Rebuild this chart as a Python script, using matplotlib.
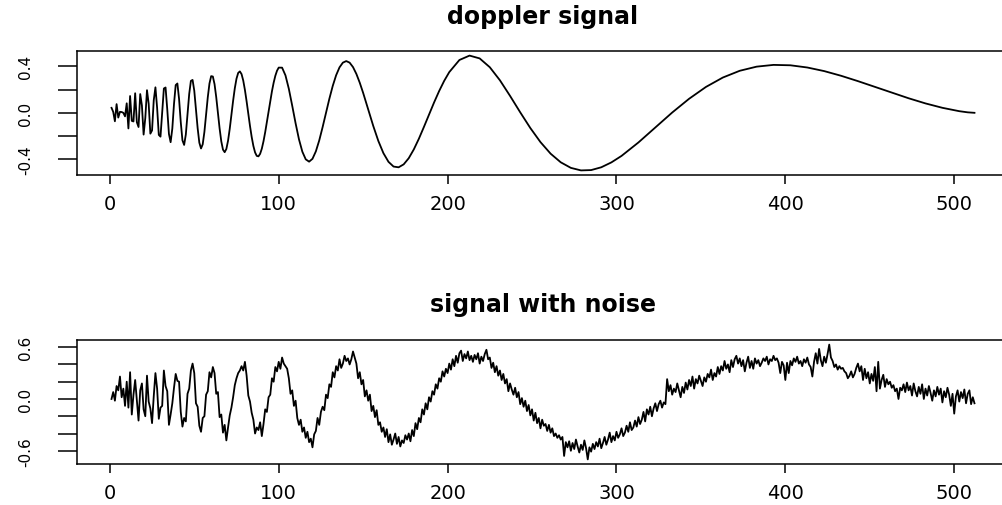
import numpy as np
import matplotlib
matplotlib.use("Agg")
import matplotlib.pyplot as plt

# ---------------- data ----------------
doppler_x = (list(range(1, 101)) + list(range(102, 151, 2)) + list(range(153, 202, 3))
             + list(range(207, 298, 6)) + [303] + list(range(313, 504, 10)) + [508, 512])
doppler_y = [
    0.0428, 0.0085, -0.0730, 0.0750, -0.0411, 0.0086, 0.0067, 0.0000, -0.0307, 0.0821,
    -0.1344, 0.1445, -0.0692, -0.0747, 0.1684, -0.0809, -0.1224, 0.1617, 0.0627, -0.1877,
    -0.0450, 0.1951, 0.0783, -0.1795, -0.1519, 0.1074, 0.2197, 0.0430, -0.1903, -0.2053,
    0.0027, 0.2097, 0.2181, 0.0314, -0.1825, -0.2531, -0.1357, 0.0765, 0.2388, 0.2526,
    0.1189, -0.0801, -0.2372, -0.2766, -0.1869, -0.0152, 0.1623, 0.2749, 0.2833, 0.1909,
    0.0344, -0.1323, -0.2574, -0.3071, -0.2712, -0.1644, -0.0170, 0.1340, 0.2525, 0.3158,
    0.3126, 0.2473, 0.1356, 0.0000, -0.1342, -0.2460, -0.3171, -0.3391, -0.3115, -0.2405,
    -0.1379, -0.0181, 0.1035, 0.2110, 0.2938, 0.3434, 0.3567, 0.3334, 0.2778, 0.1964,
    0.0979, -0.0084, -0.1135, -0.2081, -0.2854, -0.3409, -0.3710, -0.3749, -0.3531, -0.3087,
    -0.2446, -0.1666, -0.0786, 0.0120, 0.1018, 0.1857, 0.2590, 0.3190, 0.3625, 0.3893,
    # 102..150 step 2
    0.3889, 0.3226, 0.2066, 0.0612, -0.0903, -0.2282, -0.3349, -0.4006, -0.4207, -0.3961,
    -0.3319, -0.2378, -0.1232, 0.0000, 0.1214, 0.2318, 0.3235, 0.3914, 0.4322, 0.4456,
    0.4320, 0.3938, 0.3346, 0.2588, 0.1716,
    # 153..201 step 3
    0.0288, -0.1137, -0.2425, -0.3474, -0.4220, -0.4629, -0.4693, -0.4439, -0.3909, -0.3152,
    -0.2233, -0.1212, -0.0154, 0.0891, 0.1874, 0.2756, 0.3506,
    # 207..297 step 6
    0.4549, 0.4928, 0.4685, 0.3926, 0.2800, 0.1456, 0.0045, -0.1311, -0.2523, -0.3519,
    -0.4261, -0.4742, -0.4960, -0.4932, -0.4691, -0.4269,
    # 303
    -0.3711,
    # 313..503 step 10
    -0.2554, -0.1264, 0.0024, 0.1208, 0.2230, 0.3039, 0.3620, 0.3976, 0.4127, 0.4093,
    0.3903, 0.3593, 0.3190, 0.2728, 0.2235, 0.1733, 0.1253, 0.0809, 0.0431, 0.0140,
    # 508, 512
    0.0041, 0.0000,
]

noisy_y = [
    0.00, 0.08, -0.02, 0.15, 0.10, 0.26, 0.02, 0.12, -0.08, 0.20,
    -0.10, 0.31, -0.18, 0.05, 0.22, -0.02, -0.25, 0.10, 0.18, -0.12,
    -0.20, 0.27, -0.03, -0.11, -0.28, 0.03, 0.30, 0.12, -0.23, -0.10,
    -0.08, 0.33, 0.15, 0.09, -0.30, -0.18, -0.05, 0.13, 0.29, 0.21,
    0.20, -0.15, -0.32, -0.22, -0.26, 0.06, 0.12, 0.33, 0.41, 0.30,
    -0.05, -0.09, -0.31, -0.38, -0.22, -0.20, 0.05, 0.09, 0.31, 0.25,
    0.37, 0.30, 0.06, 0.08, -0.21, -0.18, -0.39, -0.30, -0.48, -0.33,
    -0.19, -0.10, 0.02, 0.16, 0.24, 0.30, 0.33, 0.38, 0.33, 0.43,
    0.27, 0.04, -0.03, -0.16, -0.24, -0.40, -0.33, -0.36, -0.27, -0.43,
    -0.29, -0.12, -0.15, 0.02, 0.05, 0.24, 0.20, 0.37, 0.32, 0.43,
    0.35, 0.48, 0.41, 0.38, 0.35, 0.24, 0.06, 0.10, -0.08, -0.02,
    -0.22, -0.30, -0.24, -0.38, -0.33, -0.45, -0.38, -0.50, -0.46, -0.56,
    -0.41, -0.37, -0.22, -0.30, -0.15, -0.09, -0.13, 0.05, 0.01, 0.17,
    0.14, 0.31, 0.25, 0.38, 0.33, 0.46, 0.36, 0.41, 0.50, 0.44,
    0.47, 0.40, 0.46, 0.55, 0.48, 0.41, 0.24, 0.31, 0.17, 0.22,
    0.03, 0.10, -0.02, 0.05, -0.14, -0.08, -0.21, -0.13, -0.30, -0.27,
    -0.38, -0.33, -0.44, -0.35, -0.50, -0.41, -0.53, -0.47, -0.40, -0.52,
    -0.44, -0.55, -0.48, -0.51, -0.42, -0.47, -0.40, -0.49, -0.36, -0.43,
    -0.28, -0.35, -0.22, -0.27, -0.12, -0.18, -0.05, -0.12, 0.02, -0.03,
    0.09, 0.05, 0.17, 0.12, 0.24, 0.20, 0.32, 0.26, 0.35, 0.30,
    0.41, 0.34, 0.46, 0.38, 0.50, 0.42, 0.53, 0.56, 0.44, 0.52,
    0.47, 0.55, 0.45, 0.50, 0.43, 0.51, 0.46, 0.53, 0.41, 0.49,
    0.44, 0.52, 0.57, 0.46, 0.48, 0.36, 0.42, 0.31, 0.38, 0.27,
    0.33, 0.22, 0.29, 0.18, 0.23, 0.09, 0.18, 0.11, 0.05, 0.13,
    0.02, 0.08, -0.06, 0.01, -0.09, -0.02, -0.14, -0.07, -0.19, -0.12,
    -0.25, -0.16, -0.28, -0.22, -0.34, -0.24, -0.31, -0.29, -0.37, -0.30,
    -0.39, -0.34, -0.43, -0.40, -0.45, -0.42, -0.47, -0.44, -0.66, -0.50,
    -0.56, -0.49, -0.60, -0.51, -0.58, -0.47, -0.55, -0.62, -0.53, -0.59,
    -0.48, -0.57, -0.70, -0.56, -0.61, -0.52, -0.58, -0.50, -0.55, -0.46,
    -0.57, -0.51, -0.44, -0.53, -0.47, -0.39, -0.50, -0.43, -0.48, -0.38,
    -0.45, -0.41, -0.34, -0.43, -0.39, -0.31, -0.38, -0.27, -0.36, -0.33,
    -0.25, -0.32, -0.21, -0.29, -0.24, -0.15, -0.26, -0.12, -0.18, -0.09,
    -0.20, -0.11, -0.05, -0.14, -0.06, -0.02, -0.10, -0.04, -0.06, 0.23,
    0.09, 0.16, 0.05, 0.12, 0.08, 0.18, 0.10, 0.02, 0.14, 0.07,
    0.19, 0.11, 0.22, 0.15, 0.26, 0.12, 0.23, 0.18, 0.27, 0.21,
    0.15, 0.25, 0.20, 0.29, 0.25, 0.34, 0.22, 0.30, 0.26, 0.37,
    0.29, 0.38, 0.33, 0.44, 0.35, 0.40, 0.31, 0.45, 0.37, 0.46,
    0.50, 0.41, 0.47, 0.38, 0.45, 0.32, 0.42, 0.49, 0.36, 0.44,
    0.35, 0.47, 0.41, 0.45, 0.38, 0.42, 0.47, 0.44, 0.49, 0.40,
    0.46, 0.44, 0.50, 0.45, 0.47, 0.42, 0.30, 0.43, 0.39, 0.22,
    0.42, 0.30, 0.44, 0.39, 0.47, 0.43, 0.49, 0.41, 0.44, 0.38,
    0.46, 0.42, 0.48, 0.40, 0.37, 0.26, 0.43, 0.53, 0.41, 0.58,
    0.45, 0.38, 0.49, 0.42, 0.52, 0.63, 0.48, 0.44, 0.37, 0.40,
    0.34, 0.38, 0.35, 0.36, 0.32, 0.30, 0.24, 0.27, 0.32, 0.25,
    0.29, 0.36, 0.41, 0.32, 0.38, 0.22, 0.35, 0.24, 0.31, 0.18,
    0.29, 0.21, 0.37, 0.09, 0.43, 0.12, 0.22, 0.28, 0.14, 0.23,
    0.17, 0.20, 0.13, 0.16, 0.09, 0.12, 0.00, 0.13, 0.10, 0.17,
    0.08, 0.19, 0.10, 0.15, 0.04, 0.18, 0.09, 0.03, 0.14, 0.06,
    0.17, 0.00, 0.12, 0.04, 0.15, 0.07, -0.02, 0.10, 0.03, 0.14,
    0.05, 0.12, -0.04, 0.09, 0.02, 0.13, 0.05, -0.08, 0.06, -0.17,
    0.03, 0.10, -0.03, 0.08, 0.01, 0.11, -0.05, 0.06, 0.10, -0.06,
    0.02, -0.05,
]
noisy_x = list(range(1, len(noisy_y) + 1))

titles = ["doppler signal", "signal with noise"]
x_ticks = [0, 100, 200, 300, 400, 500]
x_ticklabels = ["0", "100", "200", "300", "400", "500"]
top_yticks = [-0.4, -0.2, 0.0, 0.2, 0.4]
top_yticklabels = ["-0.4", "", "0.0", "", "0.4"]
bot_yticks = [-0.6, -0.4, -0.2, 0.0, 0.2, 0.4, 0.6]
bot_yticklabels = ["-0.6", "", "", "0.0", "", "", "0.6"]

# ---------------- figure ----------------
W, H = 1003, 506
fig = plt.figure(figsize=(W / 100, H / 100), dpi=100)
plt.rcParams['font.family'] = ['DejaVu Sans']

def px_axes(left, top, right, bottom):
    return fig.add_axes([left / W, 1 - bottom / H, (right - left) / W, (bottom - top) / H])

ax1 = px_axes(77, 52, 1009, 176)
ax2 = px_axes(77, 341, 1009, 465)

def style(ax, x, y, yticks, ylabels, title, title_y):
    ax.plot(x, y, color="black", lw=1.3)
    lo, hi = min(y), max(y)
    ax.set_ylim(lo - 0.04 * (hi - lo), hi + 0.04 * (hi - lo))
    ax.set_xlim(1 - 0.04 * 511, 512 + 0.04 * 511)
    ax.set_xticks(x_ticks)
    ax.set_xticklabels(x_ticklabels, fontsize=14)
    ax.set_yticks(yticks)
    ax.set_yticklabels(ylabels, fontsize=11, rotation=90, va="center")
    ax.tick_params(axis="x", direction="out", length=6.5, width=1.1, pad=7)
    ax.tick_params(axis="y", direction="out", length=13.5, width=1.1, pad=18)
    for s in ax.spines.values():
        s.set_linewidth(1.1)
        s.set_color("black")
    fig.text(543 / W, 1 - title_y / H, title, ha="center", va="center",
             fontsize=17, fontweight="bold")

style(ax1, doppler_x, doppler_y, top_yticks, top_yticklabels, titles[0], 17)
style(ax2, noisy_x, noisy_y, bot_yticks, bot_yticklabels, titles[1], 305)

fig.savefig("out.png", dpi=100)
